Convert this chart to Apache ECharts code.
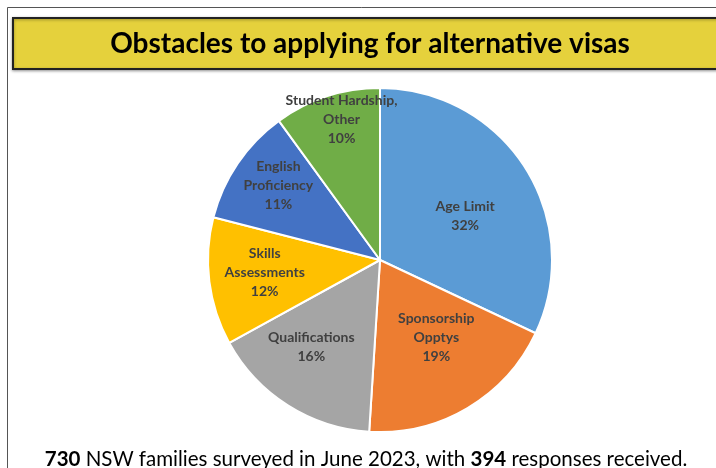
<!DOCTYPE html>
<html>
<head>
<meta charset="utf-8">
<script src="https://cdn.jsdelivr.net/npm/echarts@6/dist/echarts.min.js"></script>
<style>
  html, body { margin: 0; padding: 0; background: #fff; }
  #chart { width: 716px; height: 468px; }
</style>
</head>
<body>
<div id="chart"></div>
<script>
const categories = [
  "Age Limit",
  "Sponsorship\nOpptys",
  "Qualifications",
  "Skills\nAssessments",
  "English\nProficiency",
  "Student Hardship,\nOther",
];
const shares = [32, 19, 16, 12, 11, 10];
const colors = ["#5b9bd5", "#ed7d31", "#a5a5a5", "#ffc000", "#4472c4", "#70ad47"];

// nudges so labels sit where the original chart put them
const labelOffsets = [[10, 4], [11, 1], [-21, 12], [-27, 1], [-28, -24], [-11, -56]];

const chart = echarts.init(document.getElementById("chart"), null, { renderer: "canvas" });

const font = "Lato, 'Open Sans', sans-serif";

chart.setOption({
  backgroundColor: "#fff",
  animation: false,
  graphic: [
    // outer frame
    { type: "line", shape: { x1: 7.5, y1: 7.5, x2: 716, y2: 7.5 }, style: { stroke: "#555", lineWidth: 1 } },
    { type: "line", shape: { x1: 7.5, y1: 7.5, x2: 7.5, y2: 468 }, style: { stroke: "#555", lineWidth: 1 } },
    // title box
    {
      type: "rect",
      shape: { x: 13, y: 18, width: 720, height: 51 },
      style: { fill: "#e5d13c", stroke: "#222", lineWidth: 2, shadowColor: "rgba(0,0,0,0.35)", shadowBlur: 3, shadowOffsetY: 1 },
      z: 1,
    },
    // footnote
    {
      type: "text",
      x: 366,
      y: 449,
      z: 10,
      style: {
        text: "{b|730} NSW families surveyed in June 2023, with {b|394} responses received.",
        align: "center",
        verticalAlign: "top",
        font: "20.5px " + font,
        fill: "#000",
        rich: {
          b: { fontFamily: font, fontSize: 20.5, fontWeight: "bold", fill: "#000" },
        },
      },
    },
  ],
  title: {
    text: "Obstacles to applying for alternative visas",
    left: 365,
    top: 25,
    textAlign: "center",
    textStyle: { fontFamily: font, fontWeight: "bold", fontSize: 28, color: "#000" },
    z: 10,
  },
  series: [
    {
      type: "pie",
      center: [380, 260],
      radius: 172,
      startAngle: 90,
      clockwise: true,
      silent: true,
      itemStyle: { borderColor: "#fff", borderWidth: 2 },
      label: {
        show: true,
        position: "inside",
        formatter: (p) => p.name + "\n" + p.value + "%",
        fontFamily: font,
        fontWeight: "bold",
        fontSize: 14,
        lineHeight: 19,
        color: "#404040",
      },
      labelLine: { show: false },
      data: categories.map((name, i) => ({
        name,
        value: shares[i],
        itemStyle: { color: colors[i] },
        label: { offset: labelOffsets[i] },
      })),
    },
  ],
});
</script>
</body>
</html>
